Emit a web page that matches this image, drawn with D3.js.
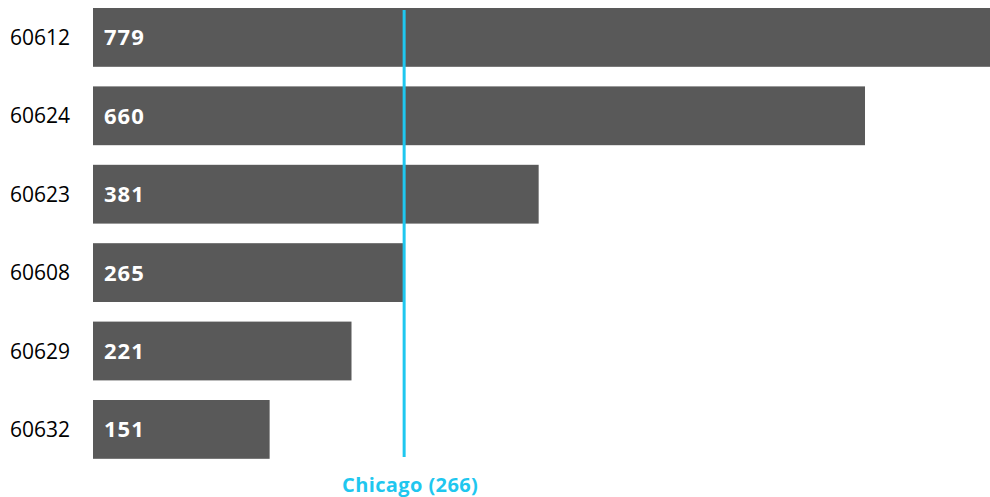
<!DOCTYPE html>
<html>
<head>
<meta charset="utf-8">
<script src="https://cdn.jsdelivr.net/npm/d3@7"></script>
<style>
  html, body { margin: 0; padding: 0; background: #fff; }
  svg { display: block; }
</style>
</head>
<body>
<svg id="chart" width="990" height="497"></svg>
<script>
const categories = ["60612", "60624", "60623", "60608", "60629", "60632"];
const values = [779, 660, 381, 265, 221, 151];
const referenceLabel = "Chicago";
const referenceValue = 266;

const svg = d3.select("#chart");

const x = d3.scaleLinear().domain([0, 800]).range([93, 93 + 800 * 1.1697]);
const y = d3.scaleBand().domain(categories).range([-1.8, 468.6]).paddingInner(0.25).paddingOuter(0.125);

const g = svg.append("g");

g.selectAll("rect.bar").data(categories).join("rect")
  .attr("class", "bar")
  .attr("x", x(0))
  .attr("y", d => y(d))
  .attr("width", (d, i) => x(values[i]) - x(0))
  .attr("height", y.bandwidth())
  .attr("fill", "#595959");

g.selectAll("text.cat").data(categories).join("text")
  .attr("class", "cat")
  .attr("x", 10)
  .attr("y", d => y(d) + y.bandwidth() / 2)
  .attr("dy", "0.36em")
  .attr("font-family", "'Open Sans', sans-serif")
  .attr("font-size", 21)
  .attr("fill", "#000")
  .text(d => d);

g.selectAll("text.val").data(categories).join("text")
  .attr("class", "val")
  .attr("x", x(0) + 11)
  .attr("y", d => y(d) + y.bandwidth() / 2)
  .attr("dy", "0.36em")
  .attr("font-family", "'Open Sans', sans-serif")
  .attr("font-weight", "bold")
  .attr("font-size", 22)
  .attr("letter-spacing", "1px")
  .attr("fill", "#fff")
  .text((d, i) => values[i]);

g.append("line")
  .attr("x1", x(referenceValue)).attr("x2", x(referenceValue))
  .attr("y1", 10).attr("y2", 457)
  .attr("stroke", "#1fc7ef")
  .attr("stroke-width", 3);

g.append("text")
  .attr("x", x(referenceValue) + 6)
  .attr("y", 492)
  .attr("text-anchor", "middle")
  .attr("font-family", "'Open Sans', sans-serif")
  .attr("font-weight", "bold")
  .attr("font-size", 20)
  .attr("letter-spacing", "0.4px")
  .attr("fill", "#1fc7ef")
  .text(`${referenceLabel} (${referenceValue})`);
</script>
</body>
</html>
